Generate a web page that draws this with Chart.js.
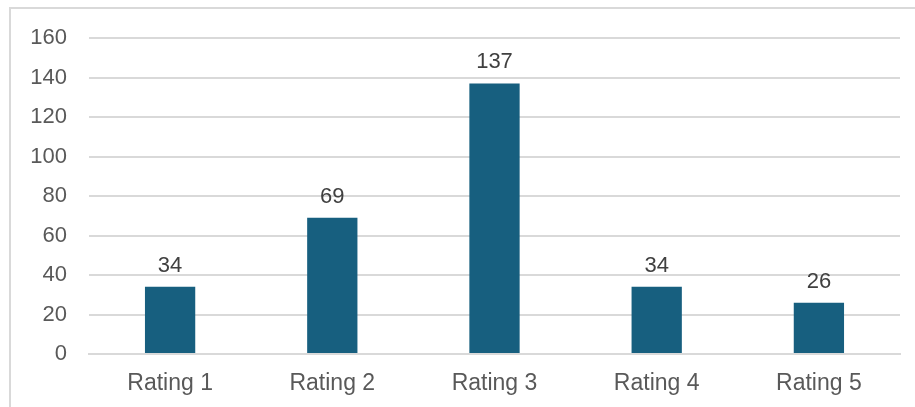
<!DOCTYPE html>
<html>
<head>
<meta charset="utf-8">
<script src="https://cdn.jsdelivr.net/npm/chart.js@4"></script>
<style>
	html, body { margin: 0; padding: 0; background: #fff; overflow: hidden; }
	#frame {
		position: absolute; left: 9px; top: 7px; width: 920px; height: 420px;
		border-top: 2px solid #d9d9d9; border-left: 2px solid #d9d9d9;
	}
	#myChart { position: absolute; left: 0; top: 0; }
</style>
</head>
<body>
<div id="frame"></div>
<canvas id="myChart" width="915" height="407"></canvas>
<script>
const categories = ['Rating 1', 'Rating 2', 'Rating 3', 'Rating 4', 'Rating 5'];
const counts = [34, 69, 137, 34, 26];
const yTicks = [0, 20, 40, 60, 80, 100, 120, 140, 160];

const FONT = 'Liberation Sans, Arial, sans-serif';

// value labels above each bar
const barLabels = {
	id: 'barLabels',
	afterDatasetsDraw(chart) {
		const ctx = chart.ctx;
		const meta = chart.getDatasetMeta(0);
		ctx.save();
		ctx.font = '22px ' + FONT;
		ctx.fillStyle = '#404040';
		ctx.textAlign = 'center';
		ctx.textBaseline = 'alphabetic';
		meta.data.forEach((bar, i) => {
			ctx.fillText(String(counts[i]), bar.x, bar.y - 15);
		});
		ctx.restore();
	}
};

var ctx = document.getElementById('myChart').getContext('2d');
var myChart = new Chart(ctx, {
	type: 'bar',
	data: {
		labels: categories,
		datasets: [{
			data: counts,
			backgroundColor: '#175f7f',
			borderWidth: 0,
			categoryPercentage: 1,
			barPercentage: 0.31
		}]
	},
	options: {
		responsive: false,
		animation: false,
		devicePixelRatio: 1,
		layout: { padding: { left: 0, top: 38, right: 15, bottom: 0 } },
		plugins: {
			legend: { display: false },
			tooltip: { enabled: false }
		},
		scales: {
			x: {
				grid: { display: false, drawTicks: false },
				border: { display: true, color: '#d9d9d9', width: 2 },
				ticks: { color: '#595959', font: { family: FONT, size: 23 }, padding: 16, maxRotation: 0 },
				afterFit: (s) => { s.height = 53; }
			},
			y: {
				min: 0,
				max: 160,
				afterBuildTicks: (s) => { s.ticks = yTicks.map(v => ({ value: v })); },
				grid: { color: '#d9d9d9', lineWidth: 2, drawTicks: false },
				border: { display: false },
				ticks: { color: '#595959', font: { family: FONT, size: 22 }, padding: 22 },
				afterFit: (s) => { s.width = 89; }
			}
		}
	},
	plugins: [barLabels]
});
</script>
</body>
</html>
